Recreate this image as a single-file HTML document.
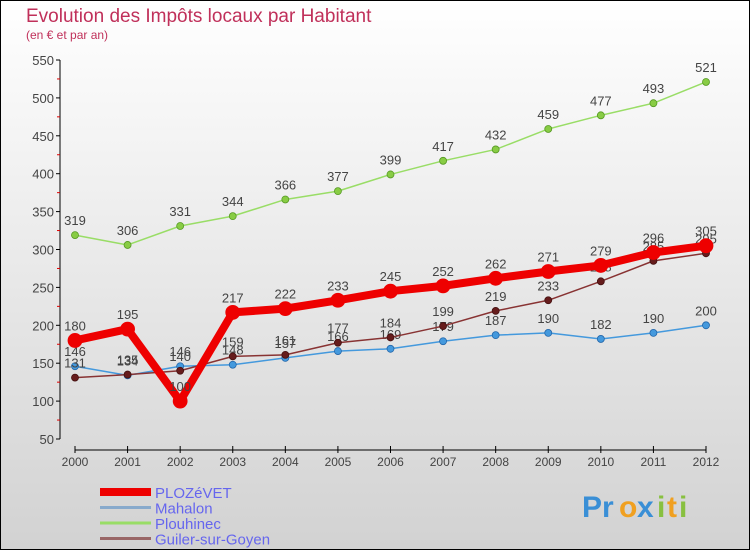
<!DOCTYPE html>
<html><head><meta charset="utf-8"><style>
html,body{margin:0;padding:0}
body{width:750px;height:550px;overflow:hidden;font-family:"Liberation Sans",sans-serif}
</style></head><body>
<svg width="750" height="550" viewBox="0 0 750 550" xmlns="http://www.w3.org/2000/svg">
<defs><linearGradient id="bg" x1="0" y1="0" x2="0" y2="1"><stop offset="0" stop-color="#ffffff"/><stop offset="1" stop-color="#d2d2d2"/></linearGradient></defs>
<rect x="0.5" y="0.5" width="749" height="549" fill="url(#bg)" stroke="#000"/>
<text x="26" y="22" font-size="19" fill="#c0305a">Evolution des Impôts locaux par Habitant</text>
<text x="26" y="39" font-size="12" fill="#c0305a">(en € et par an)</text>
<g id="axes"></g>
<g id="series"></g>
<g id="legend"></g>
<g font-size="30" font-weight="bold">
<text x="582" y="517" fill="#3a8fd6">Pr</text><text x="619" y="517" fill="#f0a020">o</text><text x="637" y="517" fill="#3a8fd6">x</text><text x="657" y="517" fill="#88c040">i</text><text x="667" y="517" fill="#f0a020">t</text><text x="679" y="517" fill="#88c040">i</text>
</g>
</svg>
<script>
const years=[2000,2001,2002,2003,2004,2005,2006,2007,2008,2009,2010,2011,2012];
const plozevet=[180,195,100,217,222,233,245,252,262,271,279,296,305];
const mahalon=[146,134,146,148,157,166,169,179,187,190,182,190,200];
const plouhinec=[319,306,331,344,366,377,399,417,432,459,477,493,521];
const guiler=[131,135,140,159,161,177,184,199,219,233,258,285,295];
const yTicks=[50,100,150,200,250,300,350,400,450,500,550];
const NS="http://www.w3.org/2000/svg";
const X=i=>75+i*(706-75)/12;
const Y=v=>439-(v-50)*379/500;
function mk(t,a,p){const e=document.createElementNS(NS,t);for(const k in a)e.setAttribute(k,a[k]);p.appendChild(e);return e;}
const ax=document.getElementById('axes');
const yl=mk('line',{x1:60,y1:Y(550),x2:60,y2:Y(50),stroke:'#000'},ax);


yTicks.forEach(v=>{
 mk('line',{x1:56,y1:Y(v),x2:60,y2:Y(v),stroke:'#000'},ax);
 if(v<550)mk('line',{x1:57,y1:Y(v+25),x2:60,y2:Y(v+25),stroke:'#d00'},ax);
 const t=mk('text',{x:54,y:Y(v)+5,'text-anchor':'end','font-size':13,fill:'#444'},ax);t.textContent=v;
 
 
});
const xl=mk('line',{x1:X(0),y1:450,x2:X(12),y2:450,stroke:'#000'},ax);


years.forEach((y,i)=>{
 mk('line',{x1:X(i),y1:446,x2:X(i),y2:453,stroke:'#000'},ax);
 const t=mk('text',{x:X(i),y:466,'text-anchor':'middle','font-size':12,fill:'#444'},ax);t.textContent=y;
 
 
});
const sg=document.getElementById('series');
function series(name,data,color,w,r,dot,dotStroke){
 const g=mk('g',{},sg);
 
 
 mk('polyline',{points:data.map((v,i)=>X(i)+','+Y(v)).join(' '),fill:'none',stroke:color,'stroke-width':w,'stroke-linejoin':'round'},g);
 data.forEach((v,i)=>{
  const c=mk('circle',{cx:X(i),cy:Y(v),r:r,fill:dot,stroke:dotStroke,'stroke-width':0.8},g);
  
  
  const t=mk('text',{x:X(i),y:Y(v)-10,'text-anchor':'middle','font-size':13,fill:'#444'},g);t.textContent=v;
  
  
 });
}
series('plouhinec',plouhinec,'#99dd66',1.5,3.5,'#88cc44','#559922');
series('mahalon',mahalon,'#4499dd',1.5,3.5,'#4499dd','#2266aa');
series('guiler',guiler,'#883333',1.5,3.5,'#661c1c','#441111');
series('plozevet',plozevet,'#ee0000',8,7,'#ee0000','#ee0000');
const lg=document.getElementById('legend');
[['PLOZéVET','#ee0000',8],['Mahalon','#88aacc',3],['Plouhinec','#99dd66',3],['Guiler-sur-Goyen','#996666',3]].forEach((e,i)=>{
 const y=492+i*15.5;
 const g=mk('g',{},lg);
 
 
 mk('line',{x1:100,y1:y,x2:151,y2:y,stroke:e[1],'stroke-width':e[2]},g);
 const t=mk('text',{x:155,y:y+6,'font-size':15,fill:'#6666ee'},g);t.textContent=e[0];
});
</script>
</body></html>
